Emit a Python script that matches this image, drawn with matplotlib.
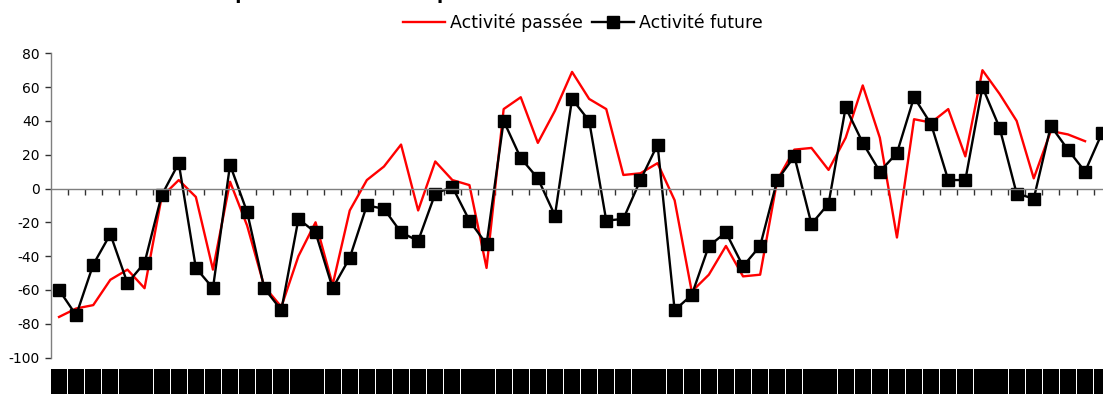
import numpy as np
import matplotlib
matplotlib.use("Agg")
import matplotlib.pyplot as plt
import matplotlib.transforms as mtransforms

plt.rcParams['font.family'] = ['DejaVu Sans']
plt.rcParams['axes.unicode_minus'] = False

# soldes d'opinion
activite_passee = [-76, -71, -69, -54, -48, -59, -5, 5, -5, -48,
                   4, -22, -58, -70, -40, -20, -57, -13, 5, 13,
                   26, -13, 16, 5, 2, -47, 47, 54, 27, 46,
                   69, 53, 47, 8, 9, 15, -7, -61, -51, -34,
                   -52, -51, 5, 23, 24, 11, 30, 61, 30, -29,
                   41, 39, 47, 19, 70, 56, 40, 6, 34, 32,
                   28]
activite_future = [-60, -75, -45, -27, -56, -44, -4, 15, -47, -59,
                   14, -14, -59, -72, -18, -26, -59, -41, -10, -12,
                   -26, -31, -3, 1, -19, -33, 40, 18, 6, -16,
                   53, 40, -19, -18, 5, 26, -72, -63, -34, -26,
                   -46, -34, 5, 19, -21, -9, 48, 27, 10, 21,
                   54, 38, 5, 5, 60, 36, -3, -6, 37, 23,
                   10, 33]
mois = ["janv", "févr", "mars", "avr", "mai", "juin",
        "juil", "août", "sept", "oct", "nov", "déc"]
annees = ["03", "04", "05", "06", "07", "08"]
etiquettes = [f"{m}-{a}" for a in annees for m in mois][:len(activite_future)]

fig = plt.figure(figsize=(11.03, 3.94), dpi=100)
W, H = 1103, 394
left, right = 50.5, 1110.7
top, bottom = 53.3, 357.5
ax = fig.add_axes([left / W, (H - bottom) / H, (right - left) / W, (bottom - top) / H])

x_p = np.arange(1, len(activite_passee) + 1)
x_f = np.arange(1, len(activite_future) + 1)
ax.plot(x_p, activite_passee, color='#ff0000', lw=1.7, label='Activité passée')
ax.plot(x_f, activite_future, color='black', lw=1.7, marker='s', markersize=8,
        label='Activité future')

ax.set_xlim(0.5, len(activite_future) + 0.5)
ax.set_ylim(-100, 80)
ax.set_yticks(np.arange(-100, 81, 20))

for s in ['top', 'right']:
    ax.spines[s].set_visible(False)
ax.spines['left'].set_color('#7f7f7f')
ax.spines['bottom'].set_color('#7f7f7f')
ax.spines['bottom'].set_position(('data', 0))
ax.spines['left'].set_linewidth(1.0)
ax.spines['bottom'].set_linewidth(1.0)

ax.set_xticks(np.arange(1.5, len(activite_future) + 0.5, 1))
ax.tick_params(axis='x', direction='out', length=4, width=1, color='#333333',
               labelbottom=False)
ax.tick_params(axis='y', direction='out', length=4, width=1, color='#333333',
               labelsize=10, pad=4)

# étiquettes de dates (illisibles sur l'original, superposées)
trans = mtransforms.blended_transform_factory(ax.transData, ax.transAxes)
for xi, lab in zip(x_f, etiquettes):
    ax.text(xi, -0.04, lab, transform=trans, rotation=90,
            ha='center', va='top', fontsize=10, color='black', clip_on=False,
            bbox=dict(boxstyle='square,pad=0.08', fc='black', ec='none'))

fig.legend(loc='center', bbox_to_anchor=(583 / W, 1 - 23 / H), ncol=2,
           frameon=False, fontsize=12.5, handlelength=2.4, handletextpad=0.3,
           columnspacing=0.5, borderaxespad=0, borderpad=0)

fig.text(220 / W, 1 + 1.0 / H, "Opinion sur l'activité passée et future",
         fontsize=13, fontweight='bold', ha='left', va='baseline')

fig.savefig('out.png', dpi=100)
